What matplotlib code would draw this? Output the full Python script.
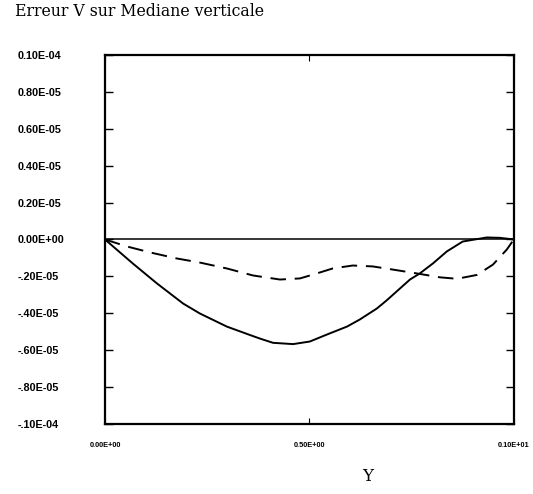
import numpy as np
import matplotlib.pyplot as plt

# courbe pleine (erreur V, unites 1e-5)
y_solid = [0.0, 0.068, 0.127, 0.191, 0.232, 0.298, 0.355, 0.379, 0.411, 0.460, 0.501, 0.543,
           0.592, 0.623, 0.665, 0.689, 0.746, 0.770, 0.802, 0.836, 0.875, 0.934, 0.966, 1.0]
v_solid = [0.0, -0.130, -0.238, -0.347, -0.401, -0.472, -0.518, -0.537, -0.560, -0.567, -0.553, -0.515,
           -0.472, -0.434, -0.374, -0.330, -0.217, -0.184, -0.130, -0.065, -0.011, 0.011, 0.009, 0.0]

# courbe pointillee
y_dash = [0.0, 0.054, 0.110, 0.176, 0.232, 0.298, 0.362, 0.428, 0.477, 0.518, 0.557,
          0.606, 0.655, 0.704, 0.763, 0.819, 0.861, 0.910, 0.949, 0.983, 1.0]
v_dash = [0.0, -0.038, -0.070, -0.103, -0.125, -0.157, -0.195, -0.217, -0.211, -0.184, -0.157,
          -0.141, -0.146, -0.163, -0.184, -0.205, -0.213, -0.192, -0.136, -0.054, 0.0]

yticks = [1.0, 0.8, 0.6, 0.4, 0.2, 0.0, -0.2, -0.4, -0.6, -0.8, -1.0]
ytick_labels = ['0.10E-04', '0.80E-05', '0.60E-05', '0.40E-05', '0.20E-05', '0.00E+00',
                '-.20E-05', '-.40E-05', '-.60E-05', '-.80E-05', '-.10E-04']
xticks = [0.0, 0.5, 1.0]
xtick_labels = ['0.00E+00', '0.50E+00', '0.10E+01']

fig = plt.figure(figsize=(5.33, 4.94), dpi=100)
ax = fig.add_axes([0.197, 0.1417, 0.767, 0.747])

ax.axhline(0.0, color='black', lw=1.1)
ax.plot(y_solid, np.array(v_solid) * 1e-5, color='black', lw=1.4)
ax.plot(y_dash, np.array(v_dash) * 1e-5, color='black', lw=1.4, dashes=(8, 4.5))

ax.set_xlim(0, 1)
ax.set_ylim(-1e-5, 1e-5)

ax.set_yticks(np.array(yticks) * 1e-5)
ax.set_yticklabels(ytick_labels, family='Liberation Sans', weight='bold', fontsize=7.8, ha='left')
ax.set_xticks(xticks)
ax.set_xticklabels(xtick_labels, family='Liberation Sans', weight='bold', fontsize=5.3)

ax.tick_params(axis='y', direction='in', length=6, width=1, right=True, pad=63)
ax.tick_params(axis='x', direction='in', length=4, width=0.8, top=True, pad=13)

for s in ax.spines.values():
    s.set_linewidth(1.6)

fig.text(0.028, 0.976, 'Erreur V sur Mediane verticale', family='DejaVu Serif',
         fontsize=11.3, va='center', ha='left')
fig.text(0.69, 0.036, 'Y', family='DejaVu Serif', fontsize=12, ha='center', va='center')

plt.savefig('out.png', dpi=100)
